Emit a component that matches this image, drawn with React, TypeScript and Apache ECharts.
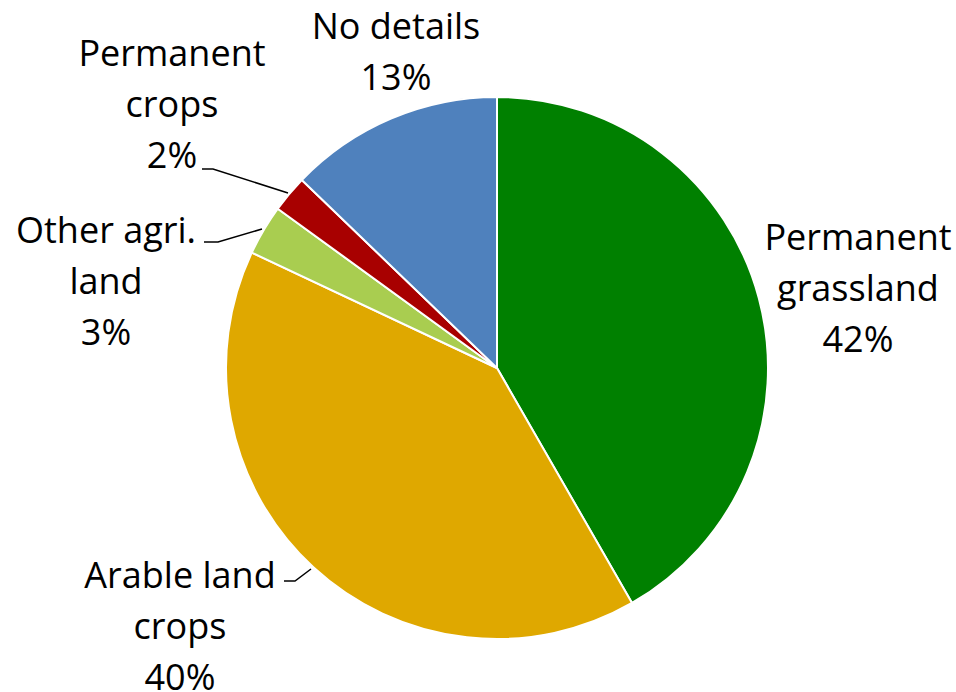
import React, { useEffect, useRef } from "react";
import * as echarts from "echarts";

const categories = [
  "Permanent\ngrassland",
  "Arable land\ncrops",
  "Other agri.\nland",
  "Permanent\ncrops",
  "No details",
];
const values = [41.7, 40.3, 3.0, 2.2, 12.8];
const colors = ["#008000", "#DFA800", "#A9CD50", "#A80000", "#4F81BD"];

// label placement (layout only)
const labelPos: { x: number; y: number; line?: number[][] }[] = [
  { x: 858, y: 287 },
  { x: 180, y: 625, line: [[311, 569], [295, 581], [284, 581]] },
  { x: 106, y: 280, line: [[262, 229], [218, 242], [204, 242]] },
  { x: 172, y: 103, line: [[288, 193], [213, 169], [202, 169]] },
  { x: 396, y: 51 },
];

export default function App() {
  const ref = useRef<HTMLDivElement>(null);
  useEffect(() => {
    if (!ref.current) return;
    const chart = echarts.init(ref.current, undefined, { renderer: "svg" });
    chart.setOption({
      animation: false,
      backgroundColor: "#ffffff",
      series: [
        {
          type: "pie",
          center: [497, 368],
          radius: 271,
          startAngle: 90,
          clockwise: true,
          data: categories.map((c, i) => ({
            name: c,
            value: values[i],
            itemStyle: { color: colors[i] },
            labelLine: { show: !!labelPos[i].line },
          })),
          itemStyle: { borderColor: "#ffffff", borderWidth: 2 },
          label: {
            show: true,
            position: "outside",
            formatter: (p: any) => `${p.name}\n${Math.round(p.value)}%`,
            fontFamily: "Open Sans",
            fontSize: 36,
            lineHeight: 51,
            color: "#000000",
            align: "center",
            overflow: "none",
          },
          labelLine: {
            show: true,
            lineStyle: { color: "#000000", width: 1.5 },
          },
          labelLayout: (params: any) => {
            const pos = labelPos[params.dataIndex];
            const out: any = {
              x: pos.x,
              y: pos.y,
              align: "center",
              verticalAlign: "middle",
            };
            if (pos.line) out.labelLinePoints = pos.line;
            return out;
          },
        },
      ],
    });
    return () => chart.dispose();
  }, []);
  return (
    <div
      ref={ref}
      style={{ position: "fixed", left: 0, top: 0, width: 956, height: 692 }}
    />
  );
}
